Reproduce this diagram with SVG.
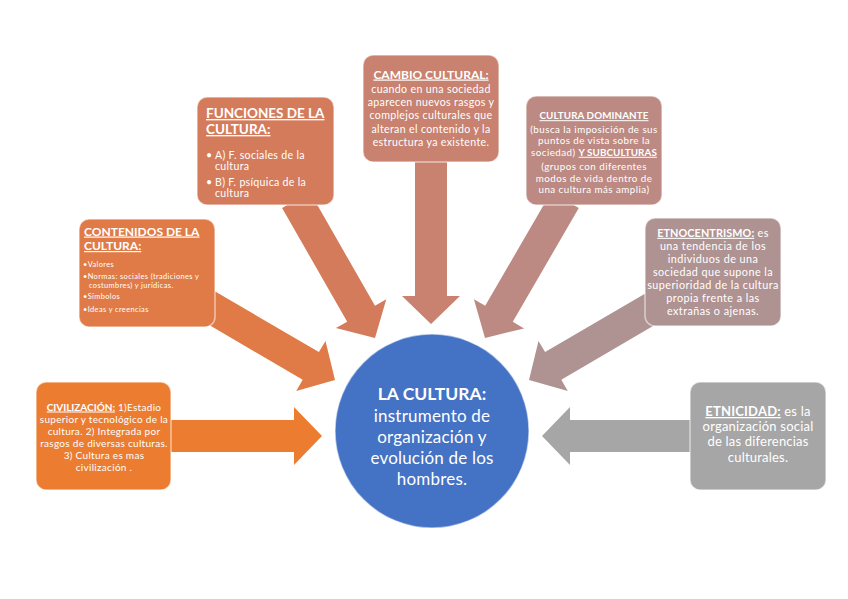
<svg xmlns="http://www.w3.org/2000/svg" width="848" height="599" viewBox="0 0 848 599">
<style>
text{font-family:Lato,"Liberation Sans",sans-serif;fill:#fff}
.box{stroke:#fff;stroke-opacity:.55;stroke-width:1.5}
.c{text-anchor:middle}
.u{text-decoration:underline;font-weight:bold}
</style>
<rect width="848" height="599" fill="#fff"/>
<g id="connectors">
<polygon fill="#EC7C30" points="165,420 294,420 294,407 322,436 294,465 294,452 165,452"/>
<polygon fill="#E07B47" points="213.1,290.2 318.9,352.1 325.5,340.9 335,380 296.2,390.9 302.7,379.7 196.9,317.8"/>
<polygon fill="#D47B5C" points="309.9,192 375,305.8 386.3,299.3 375,338 335.9,328.1 347.2,321.7 282.1,208"/>
<polygon fill="#C8826F" points="415,150 415,296 402,296 431,324 460,296 447,296 447,150"/>
<polygon fill="#BC8A83" points="551.2,192 485.2,305.8 473.9,299.3 485,338 524.1,328.4 512.8,321.8 578.8,208"/>
<polygon fill="#AF9393" points="650.9,290.2 545.1,352.1 538.5,340.9 529,380 567.8,390.9 561.3,379.7 667.1,317.8"/>
<polygon fill="#A6A6A6" points="695,420 570,420 570,407 542,436 570,465 570,452 695,452"/>
</g>
<g id="civilizacion">
<rect class="box" x="36" y="382" width="135" height="108" rx="10" fill="#EC7C30"/>
<text class="c" font-size="10" letter-spacing="0.3"><tspan x="104" y="410.5"><tspan class="u" letter-spacing="0">CIVILIZACIÓN:</tspan> 1)Estadio</tspan><tspan x="104" y="422.5">superior y tecnológico de la</tspan><tspan x="104" y="434.5">cultura. 2) Integrada por</tspan><tspan x="104" y="446.5">rasgos de diversas culturas.</tspan><tspan x="104" y="458.5">3) Cultura es mas</tspan><tspan x="104" y="470.5">civilización .</tspan></text>
</g>
<g id="contenidos">
<rect class="box" x="79" y="219" width="136" height="108" rx="10" fill="#E07B47"/>
<text font-size="12"><tspan class="u" x="84" y="235.5">CONTENIDOS DE LA</tspan><tspan class="u" x="84" y="250">CULTURA:</tspan></text>
<text font-size="7.4" letter-spacing="0.4"><tspan x="83" y="266.7">•Valores</tspan><tspan x="83" y="279.4">•Normas: sociales (tradiciones y</tspan><tspan x="89" y="288.4">costumbres) y jurídicas.</tspan><tspan x="83" y="298.7">•Símbolos</tspan><tspan x="83" y="311.7">•Ideas y creencias</tspan></text>
</g>
<g id="funciones">
<rect class="box" x="197" y="97" width="137" height="108" rx="10" fill="#D47B5C"/>
<text font-size="13.5"><tspan class="u" x="206" y="118">FUNCIONES DE LA</tspan><tspan class="u" x="206" y="134">CULTURA:</tspan></text>
<text font-size="10.6" letter-spacing="0.3"><tspan x="206" y="158.5">•</tspan><tspan x="215" y="158.5">A) F.  sociales de la</tspan><tspan x="215" y="169.5">cultura</tspan><tspan x="206" y="186">•</tspan><tspan x="215" y="186">B) F.  psíquica de la</tspan><tspan x="215" y="197">cultura</tspan></text>
</g>
<g id="cambio">
<rect class="box" x="363" y="55" width="136" height="107" rx="10" fill="#C8826F"/>
<text class="c" font-size="12"><tspan class="u" x="431" y="78.5">CAMBIO CULTURAL:</tspan></text>
<text class="c" font-size="10.6" letter-spacing="0.35"><tspan x="431" y="92.8">cuando en una sociedad</tspan><tspan x="431" y="106.1">aparecen nuevos rasgos y</tspan><tspan x="431" y="119.4">complejos culturales que</tspan><tspan x="431" y="132.7">alteran el contenido y la</tspan><tspan x="431" y="146">estructura ya existente.</tspan></text>
</g>
<g id="dominante">
<rect class="box" x="526" y="96" width="136" height="109" rx="10" fill="#BC8A83"/>
<text class="c" font-size="9.8" letter-spacing="0.45"><tspan class="u" x="594" y="119.2" letter-spacing="0.1">CULTURA DOMINANTE</tspan><tspan x="594" y="132.6">(busca la imposición de sus</tspan><tspan x="594" y="144.2">puntos de vista sobre la</tspan><tspan x="594" y="155.8">sociedad) <tspan class="u" letter-spacing="0.1">Y SUBCULTURAS</tspan></tspan><tspan x="594" y="170">(grupos con diferentes</tspan><tspan x="594" y="181.6">modos de vida dentro de</tspan><tspan x="594" y="193.2">una cultura más amplia)</tspan></text>
</g>
<g id="etnocentrismo">
<rect class="box" x="645" y="218" width="136" height="108" rx="10" fill="#AF9393"/>
<text class="c" font-size="10.8" letter-spacing="0.45"><tspan x="713" y="236.8"><tspan class="u" letter-spacing="0.1">ETNOCENTRISMO:</tspan> es</tspan><tspan x="713" y="249.9">una tendencia de los</tspan><tspan x="713" y="263">individuos de una</tspan><tspan x="713" y="276.1">sociedad que supone la</tspan><tspan x="713" y="289.2">superioridad de la cultura</tspan><tspan x="713" y="302.3">propia frente a las</tspan><tspan x="713" y="315.4">extrañas o ajenas.</tspan></text>
</g>
<g id="etnicidad">
<rect class="box" x="690" y="382" width="136" height="108" rx="10" fill="#A6A6A6"/>
<text class="c" font-size="13" letter-spacing="0.2"><tspan x="758" y="416"><tspan class="u">ETNICIDAD:</tspan> es la</tspan><tspan x="758" y="431">organización social</tspan><tspan x="758" y="446">de las diferencias</tspan><tspan x="758" y="461.5">culturales.</tspan></text>
</g>
<g id="cultura">
<circle cx="432" cy="431" r="97" fill="#4472C4" stroke="#fff" stroke-opacity=".5" stroke-width="1.5"/>
<text class="c" font-size="17.5" font-weight="bold" x="432" y="400">LA CULTURA:</text>
<text class="c" font-size="17" letter-spacing="0.2"><tspan x="432" y="421.5">instrumento de</tspan><tspan x="432" y="442.5">organización y</tspan><tspan x="432" y="463.5">evolución de los</tspan><tspan x="432" y="484.5">hombres.</tspan></text>
</g>
</svg>
